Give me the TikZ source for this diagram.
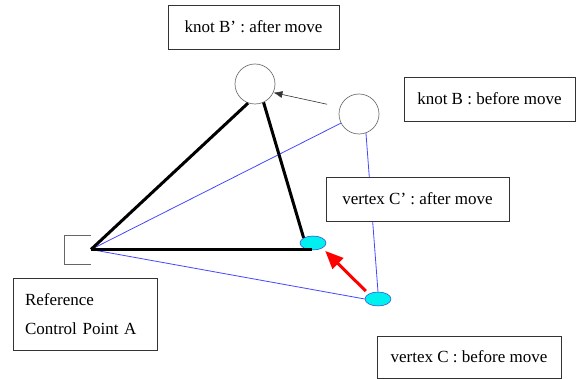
\documentclass[tikz,border=0pt]{standalone}
\usepackage{fontspec}
\setmainfont{Liberation Serif}
\usetikzlibrary{arrows.meta,shapes.geometric}
\definecolor{lineblue}{RGB}{70,70,255}
\definecolor{vertexfill}{RGB}{0,240,240}

\begin{document}
\begin{tikzpicture}[x=1pt,y=-1pt,font=\fontsize{17}{29}\selectfont,
  label box/.style={draw=black!80,line width=0.9pt,fill=white,inner sep=0pt,minimum height=44pt},
  knot/.style={circle,draw=black!55,line width=0.7pt,minimum size=40pt,inner sep=0pt},
  vertex/.style={ellipse,draw=lineblue!80!black,fill=vertexfill,line width=0.5pt,minimum width=26pt,minimum height=14pt,inner sep=0pt},
  old link/.style={lineblue,line width=0.8pt},
  new link/.style={black,line width=3pt}]
\useasboundingbox (0,0) rectangle (576,379);
\coordinate (A) at (91,249.5);
\node[knot] (Bnew) at (255,84) {};
\node[knot] (Bold) at (359,114) {};
\node[vertex] (Cnew) at (313,243) {};
\node[vertex] (Cold) at (378,299) {};
% reference point bracket
\draw[black!60,line width=0.7pt] ([yshift=14.5pt]A) -- ++(-27,0) -- ++(0,29) -- ++(27,0);
% before move
\draw[old link] (A) -- (Bold);
\draw[old link] (A) -- (Cold.west);
\draw[old link] (Bold.290) -- (Cold.north);
% after move
\draw[new link] (A) -- (Bnew.250);
\draw[new link] (Bnew.295) -- (Cnew.north west);
\draw[new link] (A) -- ([xshift=-1pt]A -| Cnew);
% moves
\draw[-{Latex[length=9pt,width=7pt]},black!80,line width=0.6pt,shorten <=13pt] (Bold.160) -- (Bnew.335);
\draw[-{Triangle[length=18pt,width=15pt]},red,line width=3pt,shorten <=4pt,shorten >=4pt] (Cold.north west) -- (Cnew.south east);
% labels
\node[label box,minimum width=171pt] (Bnewtext) at (253.5,27) {knot B’ : after move};
\node[label box,minimum width=171pt] (Boldtext) at (489.5,99) {knot B : before move};
\node[label box,minimum width=183pt] (Cnewtext) at (417.5,199) {vertex C’ : after move};
\node[label box,minimum width=184pt,minimum height=42pt] (Coldtext) at (469,357) {vertex C : before move};
\node[label box,text width=120pt,inner xsep=12pt,minimum height=72pt,align=left] (Atext) at (85,314) {Reference\\Control Point A};
\end{tikzpicture}
\end{document}
